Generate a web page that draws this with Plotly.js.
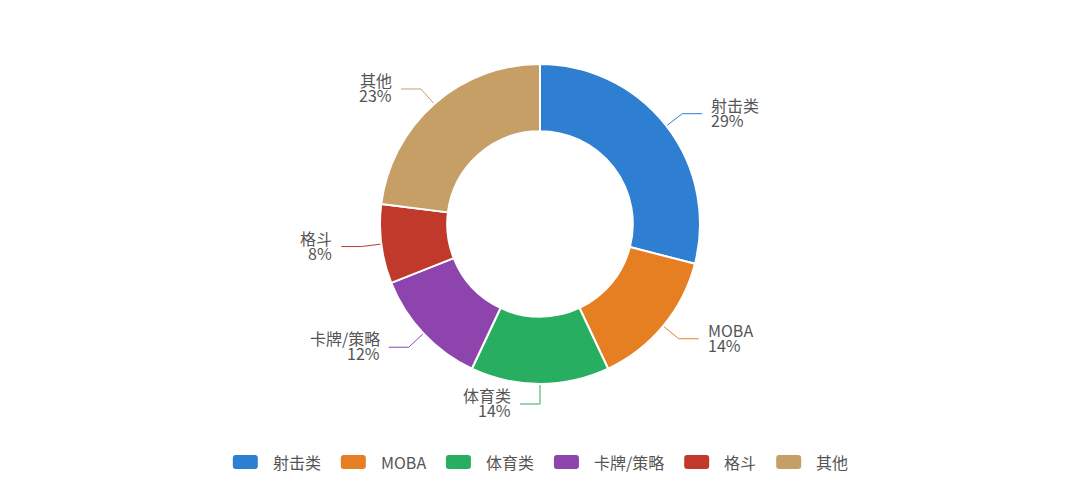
<!DOCTYPE html>
<html>
<head>
<meta charset="utf-8">
<script src="https://cdn.plot.ly/plotly-3.0.1.min.js"></script>
<style>
  html, body { margin: 0; padding: 0; background: #fff; }
  #chart { width: 1080px; height: 487px; }
</style>
</head>
<body>
<div id="chart"></div>
<script>
// game genre share, percent
var labels = ['射击类', 'MOBA', '体育类', '卡牌/策略', '格斗', '其他'];
var values = [29, 14, 14, 12, 8, 23];
var colors = ['#2e7fd2', '#e67e22', '#27ae60', '#8e44ad', '#c0392b', '#c59f66'];

var W = 1080, H = 487;
var cx = 540, cy = 224, R = 160;
var textColor = '#555555';
var fontFamily = '"Noto Sans CJK SC", "Noto Sans", sans-serif';
var fontSize = 16;

var total = values.reduce(function(a, b) { return a + b; }, 0);

var data = [{
    type: 'pie',
    labels: labels,
    values: values,
    sort: false,
    direction: 'clockwise',
    rotation: 0,
    hole: 0.58,
    textinfo: 'none',
    hoverinfo: 'label+percent',
    showlegend: false,
    marker: { colors: colors, line: { color: '#ffffff', width: 2 } },
    domain: {
        x: [(cx - R) / W, (cx + R) / W],
        y: [(H - cy - R) / H, (H - cy + R) / H]
    }
}];

var annotations = [];
var shapes = [];

function label(x, y, text, anchor) {
    return {
        x: x, y: y, xref: 'x', yref: 'y',
        text: text, showarrow: false,
        xanchor: anchor, yanchor: 'middle', borderpad: 0,
        font: { size: fontSize, color: textColor, family: fontFamily }
    };
}

// leader lines + outside labels (name over percent), from the slice mid angles
var cum = 0;
for (var i = 0; i < values.length; i++) {
    var mid = (cum + values[i] / 2) / total * 2 * Math.PI;
    cum += values[i];
    var s = Math.sin(mid), c = Math.cos(mid);
    var right = s > 1e-6;
    var x0 = cx + R * s, y0 = cy - R * c;
    var x1 = cx + (R + 20) * s, y1 = cy - (R + 20) * c;
    var x2 = x1 + (right ? 20 : -20), y2 = y1;

    data.push({
        type: 'scatter',
        mode: 'lines',
        x: [x0, x1, x2],
        y: [y0, y1, y2],
        xaxis: 'x', yaxis: 'y',
        line: { color: colors[i], width: 1 },
        hoverinfo: 'skip',
        showlegend: false
    });

    var pct = Math.round(values[i] / total * 100) + '%';
    var tx = x2 + (right ? 8 : -8);
    var anchor = right ? 'left' : 'right';
    annotations.push(label(tx, y2 - 9, labels[i], anchor));
    annotations.push(label(tx, y2 + 6, pct, anchor));
}

// legend row at the bottom: rounded swatches + names, centred
var ctx = document.createElement('canvas').getContext('2d');
ctx.font = fontSize + 'px ' + fontFamily;
var iconW = 25, iconH = 14, iconGap = 14, itemGap = 21, legY = 462;
var widths = labels.map(function(t) { return ctx.measureText(t).width; });
var rowW = 0;
widths.forEach(function(w, k) { rowW += iconW + iconGap + w + (k < widths.length - 1 ? itemGap : 0); });
var lx = cx - rowW / 2;
function roundRect(x, y, w, h, r) {
    return 'M' + (x + r) + ',' + y + ' L' + (x + w - r) + ',' + y +
        ' Q' + (x + w) + ',' + y + ' ' + (x + w) + ',' + (y + r) +
        ' L' + (x + w) + ',' + (y + h - r) +
        ' Q' + (x + w) + ',' + (y + h) + ' ' + (x + w - r) + ',' + (y + h) +
        ' L' + (x + r) + ',' + (y + h) +
        ' Q' + x + ',' + (y + h) + ' ' + x + ',' + (y + h - r) +
        ' L' + x + ',' + (y + r) +
        ' Q' + x + ',' + y + ' ' + (x + r) + ',' + y + ' Z';
}
for (var k = 0; k < labels.length; k++) {
    shapes.push({
        type: 'path', xref: 'x', yref: 'y',
        path: roundRect(lx, legY - iconH / 2, iconW, iconH, 3),
        fillcolor: colors[k], line: { width: 0 }
    });
    annotations.push(label(lx + iconW + iconGap, legY, labels[k], 'left'));
    lx += iconW + iconGap + widths[k] + itemGap;
}

var layout = {
    width: W,
    height: H,
    margin: { l: 0, r: 0, t: 0, b: 0 },
    paper_bgcolor: '#ffffff',
    plot_bgcolor: 'rgba(0,0,0,0)',
    font: { family: fontFamily, size: fontSize, color: textColor },
    xaxis: { range: [0, W], visible: false, fixedrange: true, domain: [0, 1] },
    yaxis: { range: [H, 0], visible: false, fixedrange: true, domain: [0, 1] },
    showlegend: false,
    annotations: annotations,
    shapes: shapes
};

Plotly.newPlot('chart', data, layout, { displayModeBar: false, staticPlot: true });
</script>
</body>
</html>
